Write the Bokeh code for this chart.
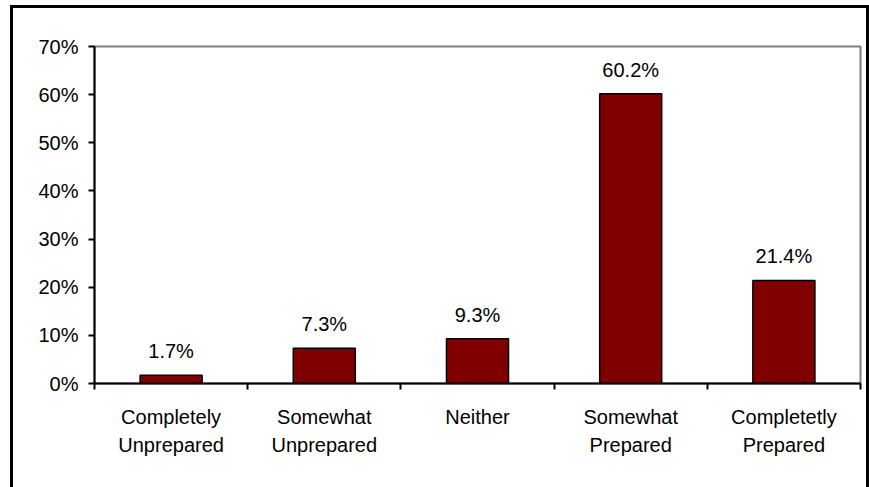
from bokeh.plotting import figure
from bokeh.models import FixedTicker, PrintfTickFormatter, ColumnDataSource, Range1d
from bokeh.embed import file_html
from bokeh.resources import INLINE
from bokeh.core.properties import value

categories = ["Completely\nUnprepared", "Somewhat\nUnprepared", "Neither",
              "Somewhat\nPrepared", "Completetly\nPrepared"]
values = [1.7, 7.3, 9.3, 60.2, 21.4]
value_labels = ["1.7%", "7.3%", "9.3%", "60.2%", "21.4%"]
y_ticks = [0, 10, 20, 30, 40, 50, 60, 70]

centers = [i + 0.5 for i in range(len(categories))]
bounds = list(range(len(categories) + 1))

src = ColumnDataSource(dict(x=centers, top=values, lab=value_labels))

FONT = "Liberation Sans"
FS = "20px"

p = figure(width=859, height=482, output_backend="svg", toolbar_location=None,
           x_range=Range1d(0, len(categories)), y_range=Range1d(0, 70),
           min_border_left=81, min_border_right=12, min_border_top=38, min_border_bottom=107)
p.styles = {"border-top": "3px solid black", "border-left": "3px solid black",
            "border-right": "3px solid black", "margin-left": "10px", "margin-top": "5px",
            "box-sizing": "border-box"}

p.vbar(x="x", top="top", bottom=0, width=0.405, source=src,
       fill_color="#800000", line_color="black", line_width=1.5)
p.text(x="x", y="top", text="lab", source=src, text_align="center",
       text_baseline="middle", y_offset=-24, text_font=value(FONT),
       text_font_size=FS, text_color="black")

p.xgrid.visible = False
p.ygrid.visible = False
p.outline_line_color = "#808080"
p.outline_line_width = 2
p.background_fill_color = "white"
p.border_fill_color = "white"

xa = p.xaxis[0]
xa.ticker = FixedTicker(ticks=centers, minor_ticks=bounds)
xa.major_label_overrides = {c: lab for c, lab in zip(centers, categories)}
xa.major_tick_out = 0
xa.major_tick_in = 0
xa.minor_tick_out = 6
xa.minor_tick_in = 0
xa.minor_tick_line_color = "black"
xa.minor_tick_line_width = 2
xa.axis_line_color = "black"
xa.axis_line_width = 2
xa.major_label_standoff = 16
xa.major_label_text_font = FONT
xa.major_label_text_font_size = FS
xa.major_label_text_color = "black"
xa.major_label_text_line_height = 1.3

ya = p.yaxis[0]
ya.ticker = FixedTicker(ticks=y_ticks)
ya.formatter = PrintfTickFormatter(format="%d%%")
ya.major_tick_out = 6
ya.major_tick_in = 0
ya.minor_tick_out = 0
ya.minor_tick_in = 0
ya.major_tick_line_color = "black"
ya.major_tick_line_width = 2
ya.axis_line_color = "black"
ya.axis_line_width = 2
ya.major_label_standoff = 10
ya.major_label_text_font = FONT
ya.major_label_text_font_size = FS
ya.major_label_text_color = "black"

open("out.html", "w").write(file_html(p, INLINE))
